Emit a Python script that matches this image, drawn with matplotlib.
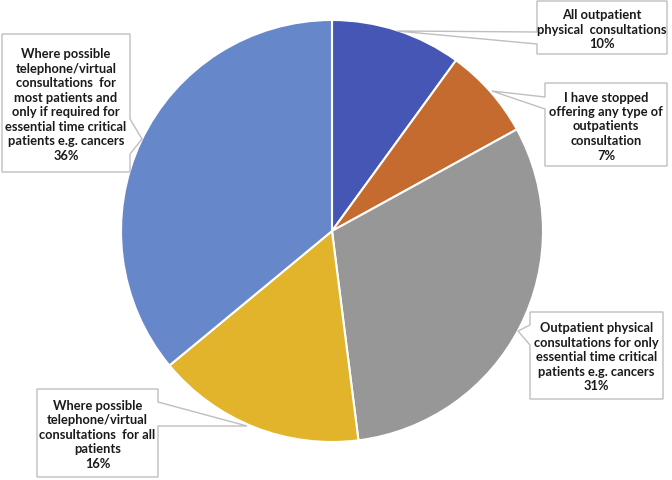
import matplotlib
matplotlib.use("Agg")
import matplotlib.pyplot as plt
from matplotlib.patches import Polygon

categories = [
    "All outpatient\nphysical  consultations",
    "I have stopped\noffering any type of\noutpatients\nconsultation",
    "Outpatient physical\nconsultations for only\nessential time critical\npatients e.g. cancers",
    "Where possible\ntelephone/virtual\nconsultations  for all\npatients",
    "Where possible\ntelephone/virtual\nconsultations  for\nmost patients and\nonly if required for\nessential time critical\npatients e.g. cancers",
]
values = [10, 7, 31, 16, 36]
colors = ["#4656B5", "#C66B2F", "#979797", "#E2B42B", "#6787CB"]

W, H = 672, 481
fig = plt.figure(figsize=(W / 100, H / 100), dpi=100)
ax = fig.add_axes([0, 0, 1, 1])

def P(x, y):
    return (x, H - y)

ax.pie(values, startangle=90, counterclock=False, colors=colors,
       center=P(332, 232), radius=211,
       wedgeprops=dict(edgecolor="white", linewidth=1.5))
ax.set_xlim(0, W)
ax.set_ylim(0, H)
ax.set_aspect("equal")
ax.axis("off")

# callout layouts: box (x0, y0, x1, y1), side, notch (a, b), tip
callouts = [
    ((537, 2, 667, 55), "left", (33, 45), (397, 32)),
    ((545, 84, 667, 167), "left", (98, 110), (492, 92)),
    ((530, 313, 663, 400), "left", (326, 346), (518, 332)),
    ((37, 390, 158, 478), "right", (403, 427), (247, 427)),
    ((2, 35, 130, 173), "right", (120, 155), (142, 140)),
]

for (cat, val, (box, side, (na, nb), tip)) in zip(categories, values, callouts):
    x0, y0, x1, y1 = box
    if side == "left":
        pts = [(x0, y0), (x1, y0), (x1, y1), (x0, y1), (x0, nb), tip, (x0, na)]
    else:
        pts = [(x0, y0), (x1, y0), (x1, na), tip, (x1, nb), (x1, y1), (x0, y1)]
    poly = Polygon([P(*p) for p in pts], closed=True, facecolor="white",
                   edgecolor="#BFBFBF", linewidth=1.0, zorder=5)
    ax.add_patch(poly)
    cx, cy = (x0 + x1) / 2, (y0 + y1) / 2
    ax.text(*P(cx, cy + 1), f"{cat}\n{val}%", ha="center", va="center",
            fontsize=9.3, fontweight="bold", linespacing=1.25,
            family=["Lato", "DejaVu Sans"],
            color="#1a1a1a", zorder=6)

fig.savefig("out.png", dpi=100)
